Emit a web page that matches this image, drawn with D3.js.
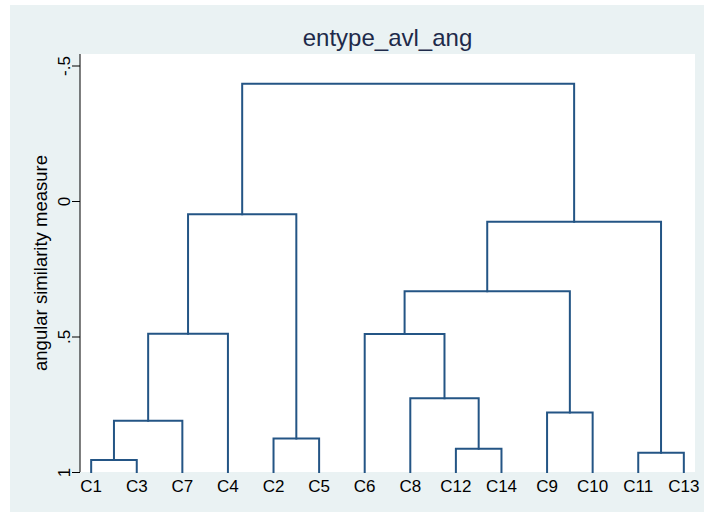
<!DOCTYPE html>
<html>
<head>
<meta charset="utf-8">
<script src="https://cdn.jsdelivr.net/npm/d3@7"></script>
<style>
  body { margin: 0; background: #ffffff; }
  svg { display: block; font-family: "Liberation Sans", Arial, sans-serif; }
</style>
</head>
<body>
<svg id="chart" width="704" height="513"></svg>
<script>
'use strict'

// leaves in dendrogram order
var leaves = ["C1", "C3", "C7", "C4", "C2", "C5", "C6", "C8", "C12", "C14", "C9", "C10", "C11", "C13"];

// merges: index < 14 is a leaf, else merge (index - 14)
var mergeLeft   = [0, 14, 15, 4, 16, 8, 7, 6, 10, 21, 12, 23, 18];
var mergeRight  = [1, 2, 3, 5, 17, 9, 19, 20, 11, 22, 13, 24, 25];
var mergeHeight = [0.956, 0.811, 0.49, 0.876, 0.049, 0.914, 0.728, 0.491, 0.78, 0.333, 0.929, 0.077, -0.433];

var tickValues = [-0.5, 0, 0.5, 1];
var tickLabels = ["-.5", "0", ".5", "1"];

var titleText = "entype_avl_ang";
var yTitle = "angular similarity measure";

/**
 *  layout
 */
var W = 704, H = 513,
    plot = { left: 80, right: 695, top: 54, bottom: 472 },
    lineColor = "#245585",
    textColor = "#1e2a4a";

var svg = d3.select("#chart");

svg.append("rect")
    .attr("x", 10).attr("y", 5)
    .attr("width", W - 10).attr("height", 507)
    .attr("fill", "#eaf2f3");

svg.append("rect")
    .attr("x", plot.left).attr("y", plot.top)
    .attr("width", plot.right - plot.left).attr("height", plot.bottom - plot.top)
    .attr("fill", "#ffffff");

var x = d3.scalePoint()
    .domain(leaves)
    .range([plot.left, plot.right])
    .padding(0.245);

var y = d3.scaleLinear()
    .domain([-0.5, 1])
    .range([65.5, plot.bottom]);

/**
 *  node positions
 */
var nodeX = leaves.map(function(d) { return x(d); }),
    nodeH = leaves.map(function() { return 1; });

mergeHeight.forEach(function(h, i) {
    nodeX.push((nodeX[mergeLeft[i]] + nodeX[mergeRight[i]]) / 2);
    nodeH.push(h);
});

var g = svg.append("g")
    .attr("fill", "none")
    .attr("stroke", lineColor)
    .attr("stroke-width", 2)
    .attr("stroke-linecap", "square");

mergeHeight.forEach(function(h, i) {
    var a = mergeLeft[i], b = mergeRight[i];
    var path = d3.path();
    path.moveTo(nodeX[a], y(nodeH[a]));
    path.lineTo(nodeX[a], y(h));
    path.lineTo(nodeX[b], y(h));
    path.lineTo(nodeX[b], y(nodeH[b]));
    g.append("path").attr("d", path.toString());
});

/**
 *  y axis
 */
var yAxis = d3.axisLeft(y)
    .tickValues(tickValues)
    .tickSize(8)
    .tickSizeOuter(0)
    .tickFormat(function(d, i) { return tickLabels[i]; });

var ax = svg.append("g")
    .attr("transform", "translate(" + plot.left + ",0)")
    .call(yAxis);

ax.select(".domain").remove();
ax.append("line")
    .attr("y1", plot.top).attr("y2", plot.bottom)
    .attr("stroke", "#000").attr("stroke-width", 1);
ax.selectAll(".tick line").attr("stroke", "#000");
ax.selectAll(".tick text")
    .attr("x", null).attr("dy", null)
    .attr("transform", "translate(-10,0) rotate(-90)")
    .attr("text-anchor", "middle")
    .attr("font-size", 17)
    .attr("fill", "#000");

svg.append("text")
    .attr("transform", "translate(47," + ((plot.top + plot.bottom) / 2) + ") rotate(-90)")
    .attr("text-anchor", "middle")
    .attr("font-size", 18.5)
    .attr("fill", "#000")
    .text(yTitle);

/**
 *  leaf labels
 */
svg.append("g").selectAll("text")
    .data(leaves)
    .enter()
    .append("text")
    .attr("x", function(d) { return x(d); })
    .attr("y", 492)
    .attr("text-anchor", "middle")
    .attr("font-size", 17)
    .attr("fill", "#000")
    .text(function(d) { return d; });

svg.append("text")
    .attr("x", (plot.left + plot.right) / 2)
    .attr("y", 46)
    .attr("text-anchor", "middle")
    .attr("font-size", 24)
    .attr("fill", textColor)
    .text(titleText);
</script>
</body>
</html>
